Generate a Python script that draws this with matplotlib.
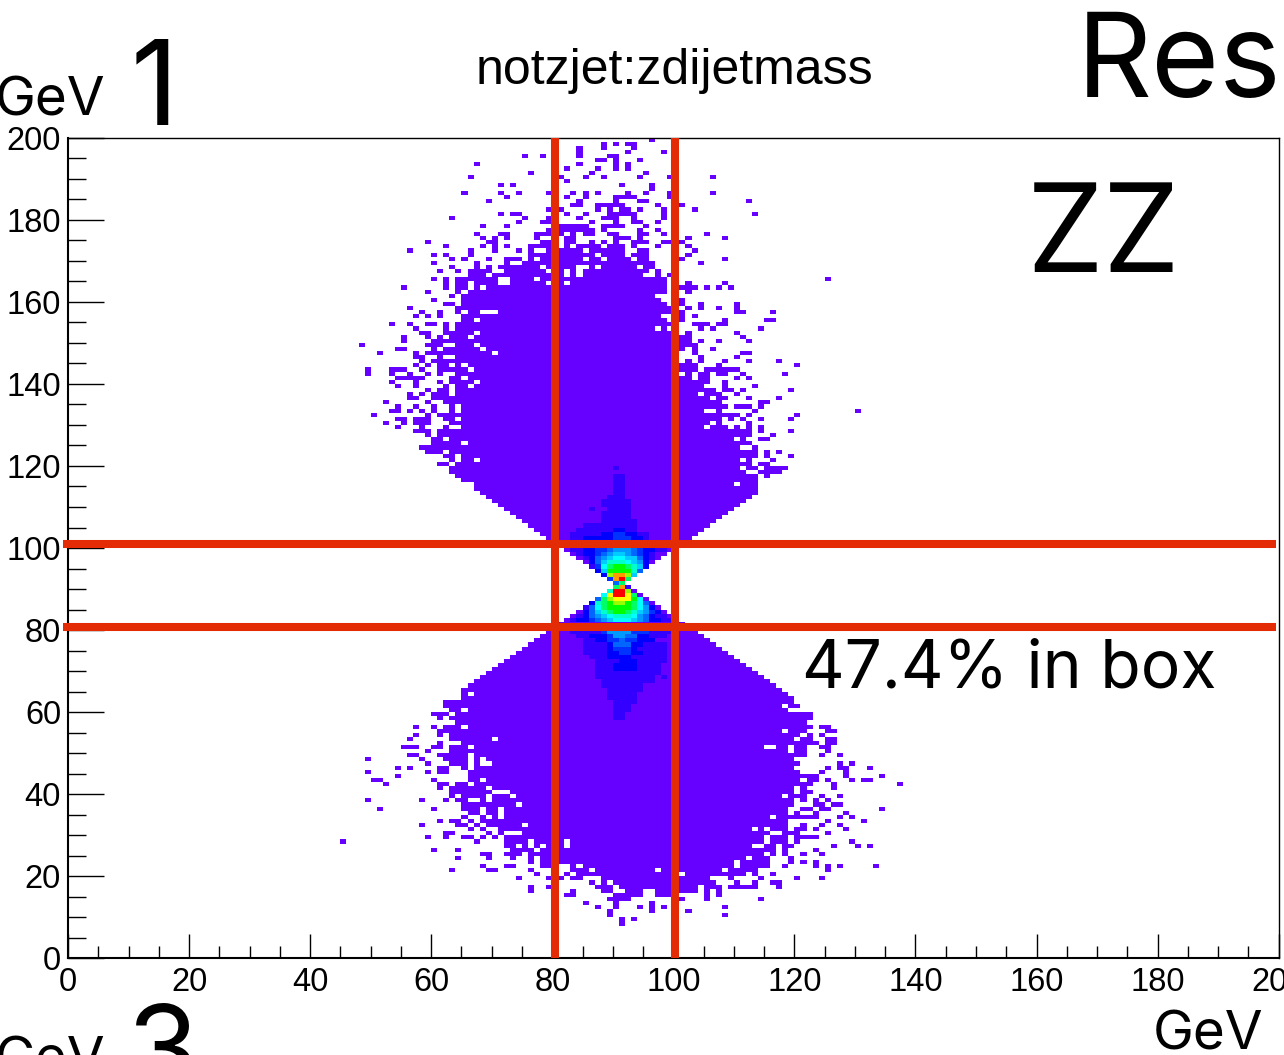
import numpy as np
from matplotlib import pyplot as plt
from matplotlib.colors import ListedColormap, BoundaryNorm
from matplotlib.ticker import MultipleLocator

# occupied 1 GeV cells, read row by row: {y bin: [x bin or (first, last), ...]}
upper_cells = {
    199: [96], 198: [88, 90, 92, 93], 197: [84, 88, 93], 196: [84, 92, 98],
    195: [75, 78, 84, 89, 90], 194: [87, 88, 90, 94], 193: [67, 84, 90, 92],
    192: [82, 87, 90, 92], 191: [76, 86, 95], 190: [66, 81, 85, 88, 94, 99, 106],
    189: [82], 188: [71, 73, 91, 96], 187: [80, 96],
    186: [65, 71, 74, 79, 83, 85, 87, 92, 95, 99, 106],
    185: [72, 82, 85, (90, 93), 99], 184: [69, 84, 90, 94, 95, 112],
    183: [(83, 84), (87, 91), 97, 101], 182: [79, 81, 87, 89, 91, 92, 94, 98, 103],
    181: [71, 73, 74, 82, 85, (89, 93), 98, 113], 180: [63, 75, 79, 84, (88, 90), 93, 98],
    179: [74, 78, 79, 86, 90, 93, 94, 97], 178: [68, 72, (81, 85), (88, 91), 95],
    177: [79, (81, 86), 88, 94, 97],
    176: [67, 71, 72, (77, 79), 81, 83, 85, 86, 89, 90, 94, 95, 98, 105],
    175: [68, 70, 72, 77, 82, 83, (90, 92), 94, 102, 108],
    174: [59, 69, 70, 78, 79, 82, 83, 86, 88, 90, 93, 94, 95, 98, 99, 101],
    173: [62, 68, 70, 72, (76, 79), 82, (84, 87), (89, 91), 93, 97, 102],
    172: [56, 66, 70, 74, 76, 79, (81, 84), (86, 91), (94, 95), 103],
    171: [60, 62, 66, (76, 79), (81, 86), (88, 91), (93, 95), 102],
    170: [63, 65, 69, (72, 74), 76, 78, 79, (81, 84), (86, 87), (89, 92), (94, 95), 101, 108],
    169: [60, 67, 72, (75, 79), (81, 96), 104],
    168: [63, 67, 69, (71, 77), 79, (81, 83), (86, 86), (88, 93), (95, 96)],
    167: [61, 64, (66, 69), (72, 78), (81, 81), 83, (85, 95), 97],
    166: [(66, 68), (70, 79), 81, 83, (85, 94), 97, 99],
    165: [60, 62, (64, 70), (73, 76), (78, 98), 125],
    164: [62, (64, 65), (67, 70), (73, 78), (80, 81), (83, 98), 102, 108],
    163: [55, 62, 64, 65, 67, (69, 98), (101, 103), 105, 107, 109],
    162: [59, 64, (66, 98), 102], 161: [63, (65, 96)], 160: [60, (65, 97), 101],
    159: [62, 63, (65, 98), 101, 104, 110], 158: [56, (64, 99), 102, 104, 107, 110],
    157: [58, 61, 64, (66, 67), (71, 99), 101, (110, 111), 116],
    156: [57, 59, 61, (65, 97), 101, 103], 155: [(65, 66), (68, 98), 101, 108, (115, 116)],
    154: [53, 56, 59, 60, 62, (64, 99), (103, 105), (107, 108)],
    153: [57, 62, (64, 96), 98, 104, 106, 114],
    152: [58, 59, (62, 66), (68, 99), 102, 110],
    151: [55, 59, 61, (63, 65), (67, 102), 111],
    150: [55, (60, 102), 104, 107, 112],
    149: [48, (59, 61), (64, 66), (68, 103)],
    148: [54, 55, 60, (62, 67), (69, 101), 103, 106],
    147: [51, 57, (59, 69), (71, 100), 103, (111, 112)],
    146: [57, 58, 61, (64, 100), 104, 110],
    145: [58, (60, 100), 102, 104, 108, 112, 117],
    144: [57, 59, (61, 62), 64, (66, 103), 107, 120],
    143: [49, (53, 55), 58, (61, 65), (67, 103), (105, 110)],
    142: [49, 53, 56, 59, 61, (64, 100), 102, 104, 105, 107, 108, 111, 118],
    141: [(54, 58), (63, 64), (66, 102), 104, 105, 110, 112],
    140: [53, 57, 61, (63, 66), (68, 105), 108],
    139: [54, 57, 62, (64, 65), (67, 104), 108, 113],
    138: [59, 61, 62, (64, 106), (108, 109), 111, 119],
    137: [56, 58, (60, 62), (64, 103), (105, 107), 110],
    136: [56, 57, (60, 105), 107, 108, 112, 117],
    135: [52, 59, (62, 107), (114, 115)],
    134: [54, 57, 60, 63, (65, 108), (110, 112), 114],
    133: [(53, 54), 56, 58, 60, 63, (65, 104), 107, 113, 130],
    132: [50, 59, (61, 110), 112, 120],
    131: [(54, 55), (57, 59), (62, 63), (65, 107), 109, 111, 114, 119],
    130: [52, 55, (57, 59), (63, 105), 107, 112],
    129: [54, 58, 62, (65, 104), (106, 108), 110, 112, 114],
    128: [(57, 59), (61, 112), 114, 119], 127: [59, (61, 112), 116],
    126: [(60, 61), (63, 109), 111, (114, 115)], 125: [(60, 64), (66, 112)],
    124: [(58, 110), 113], 123: [(59, 61), (63, 113), 115, 117],
    122: [(62, 63), (65, 113), 115, 119], 121: [63, (65, 66), (68, 110), 112, 116],
    120: [(61, 62), (64, 112), (114, 115)], 119: [(63, 110), (112, 113), (115, 118)],
    118: [(63, 111), (114, 117)], 117: [(64, 113), 115], 116: [(65, 113)],
    115: [(67, 109), (111, 113)], 114: [(67, 113)], 113: [(68, 113)], 112: [(69, 112)],
    111: [(70, 111)], 110: [(71, 110)], 109: [(72, 109)], 108: [(73, 108)],
    107: [(74, 107)], 106: [(75, 106)], 105: [(76, 105)], 104: [(77, 104)],
    103: [(78, 103)], 102: [(79, 102)], 101: [(80, 101)], 100: [(81, 101)],
}

lower_cells = {
    81: [(81, 101)], 80: [(80, 102)], 79: [(79, 103)], 78: [(78, 104)], 77: [(77, 105)],
    76: [(76, 106)], 75: [(75, 107)], 74: [(74, 108)], 73: [(73, 109)], 72: [(72, 110)],
    71: [(71, 111)], 70: [(70, 112)], 69: [(69, 113)], 68: [(68, 114)], 67: [(67, 115)],
    66: [(66, 116)], 65: [(65, 117)], 64: [65, (67, 118)], 63: [(65, 119)], 62: [(62, 119)],
    61: [(62, 117), (119, 120)], 60: [(63, 64), (66, 118)], 59: [(60, 62), (64, 122)],
    58: [61, (63, 122)], 57: [(64, 121)], 56: [57, 60, (62, 64), (66, 122), (124, 125)],
    55: [(61, 117), (119, 121), (125, 126)], 54: [57, 61, (63, 120), 122, 124],
    53: [56, (63, 69), (71, 119), (121, 122), (125, 126)], 52: [61, (65, 123), (125, 126)],
    51: [(55, 57), (60, 61), (63, 65), (67, 114), (117, 118), (120, 121), (124, 125)],
    50: [59, (63, 118), (120, 121), 125], 49: [(56, 57), (61, 65), (67, 121), 124, 127],
    48: [49, 58, (62, 65), 67, (69, 119)], 47: [59, (63, 65), 67, (70, 120), 127, 129],
    46: [54, 56, (61, 62), 65, (67, 119), 125, (127, 128), 132],
    45: [49, 59, (61, 62), (66, 120), 124, 128], 44: [54, (66, 123), 128, 134],
    43: [(50, 51), 60, (66, 67), (69, 120), (122, 123), 125, 129, (131, 132)],
    42: [52, (61, 62), (64, 65), (67, 122), 126, 137], 41: [61, (63, 68), (70, 119), 121, 126],
    40: [(63, 69), (73, 119), (121, 122)],
    39: [63, (65, 68), (70, 72), (74, 117), (119, 121), 124, 127],
    38: [49, 58, 62, (64, 65), 68, (70, 119), 121, 123, 125],
    37: [(65, 73), (75, 119), (123, 124), (126, 127)],
    36: [51, 60, (65, 67), (69, 70), (72, 118), (121, 122), (124, 125), 134],
    35: [(66, 67), (69, 70), (72, 118), 120, 123, 128],
    34: [65, 68, 70, (72, 115), (117, 123), 127, 129],
    33: [61, (63, 64), 66, (68, 118), 125, 131],
    32: [58, (64, 65), 67, (69, 74), (76, 118), 121, 124, 127],
    31: [66, 68, (71, 112), 114, (116, 118), (120, 121), 123, 128],
    30: [(62, 63), 69, 71, (75, 115), (118, 120), 125],
    29: [59, 62, (65, 66), 68, 70, (72, 114), (116, 118), (120, 123)],
    28: [45, 67, (72, 75), (77, 81), (83, 114), (116, 118), 120, 129],
    27: [(72, 73), 75, 77, (79, 81), (83, 112), (115, 116), (118, 119), 126, 130, 132],
    26: [60, 64, (73, 76), (78, 116), 118, 123],
    25: [(68, 69), (72, 74), (76, 114), 116, 118, 121, 124],
    24: [64, 69, 73, 76, (78, 111), (113, 115), 119],
    23: [76, (78, 109), (111, 115), 119, 121, 123],
    22: [68, (72, 73), (78, 80), 83, (85, 109), (111, 115), 118, 123, 125, 127, 133],
    21: [63, (69, 70), 76, (83, 85), (87, 96), (98, 107), (109, 113), 125],
    20: [77, 82, (84, 100), (102, 111), 113, 116],
    19: [74, (79, 81), (83, 84), (88, 105), 109, 114, 120, 124],
    18: [86, 88, (90, 106), 110, 113, (116, 117)],
    17: [76, 79, (87, 89), (91, 103), (105, 107), (109, 113), 117],
    16: [76, 83, (88, 89), (92, 94), (97, 103), 105, 107],
    15: [(82, 83), (90, 94), (97, 100), 105, 107], 14: [(89, 92), 101, 105, 114],
    13: [85, 90, 96], 12: [87, 90, 94, 96, 98, 100, 108], 11: [89, 96, 102],
    10: [89, 108], 9: [91, 93], 8: [91],
}

# narrow waist, bin contents as palette steps, first x bin then the row
waist_first = {99: 82, 98: 83, 97: 84, 96: 85, 95: 86, 94: 87, 93: 88, 92: 89, 91: 90, 90: 90,
               89: 89, 88: 88, 87: 87, 86: 86, 85: 85, 84: 84, 83: 83, 82: 82}
waist_levels = {
    99: [1, 2, 2, 3, 3, 4, 4, 5, 6, 6, 6, 5, 4, 3, 3, 2, 2, 1, 1],
    98: [1, 2, 3, 3, 4, 5, 6, 7, 7, 6, 5, 4, 3, 2, 1, 1],
    97: [1, 2, 3, 5, 6, 7, 8, 8, 7, 7, 5, 3, 2, 1],
    96: [1, 3, 5, 7, 9, 9, 9, 8, 7, 6, 3, 1],
    95: [2, 4, 8, 10, 11, 11, 10, 9, 7, 3],
    94: [3, 7, 11, 11, 11, 11, 9, 5],
    93: [3, 12, 14, 14, 12, 7],
    92: [4, 14, 15, 10],
    91: [5, 10],
    90: [10, 14, 2],
    89: [9, 15, 15, 12, 1],
    88: [8, 13, 15, 15, 13, 10, 1],
    87: [5, 10, 12, 13, 13, 13, 11, 8, 1],
    86: [3, 9, 10, 11, 12, 12, 11, 10, 8, 5, 1],
    85: [2, 5, 8, 10, 11, 11, 11, 11, 10, 8, 6, 3, 1],
    84: [1, 3, 5, 7, 9, 10, 11, 11, 10, 9, 7, 6, 4, 3, 1],
    83: [1, 2, 3, 5, 6, 7, 8, 9, 9, 9, 8, 6, 5, 3, 2, 2, 1],
    82: [1, 2, 3, 3, 4, 5, 6, 7, 8, 8, 8, 7, 6, 5, 3, 3, 2, 2, 1],
}

# blue shoulders around the waist: y bin, first x bin, last x bin, palette step
shoulder_rows = [119, 117, 116, 115, 114, 113, 112, 111, 110, 109, 109, 108, 107, 106, 105,
                 104, 104, 104, 103, 103, 103, 103, 103,
                 102, 102, 102, 102, 102, 102,
                 79, 79, 79, 79, 79, 78, 78, 78, 78, 78, 78, 78,
                 77, 77, 77, 77, 77, 77, 76, 76, 76, 76, 76, 75, 75, 75, 75, 75,
                 74, 74, 74, 74, 74, 73, 73, 73, 72, 72, 72, 71, 71, 71, 70, 70, 70,
                 69, 68, 68, 67, 66, 65, 64, 63, 62, 61, 60, 59, 58]
shoulder_first = [90, 90, 90, 90, 90, 90, 89, 88, 88, 86, 89, 88, 88, 88, 85,
                  84, 90, 92, 83, 88, 90, 92, 94,
                  83, 85, 90, 93, 95, 95,
                  83, 88, 89, 93, 96, 84, 86, 89, 90, 92, 94, 96,
                  85, 87, 89, 91, 92, 94, 85, 89, 90, 93, 95, 85, 89, 90, 93, 94,
                  85, 89, 91, 93, 95, 86, 89, 93, 87, 91, 94, 87, 90, 94, 87, 90, 94,
                  87, 87, 98, 88, 88, 89, 89, 89, 90, 90, 90, 90, 90]
shoulder_last = [90, 91, 91, 91, 91, 91, 91, 92, 92, 86, 92, 92, 92, 93, 93,
                 89, 91, 93, 87, 89, 91, 93, 95,
                 84, 89, 92, 94, 95, 95,
                 87, 88, 92, 95, 99, 85, 88, 89, 91, 93, 95, 98,
                 86, 88, 90, 91, 93, 96, 88, 89, 92, 94, 98, 88, 89, 92, 93, 98,
                 88, 90, 92, 94, 98, 88, 92, 98, 90, 93, 98, 89, 93, 97, 89, 93, 97,
                 97, 96, 98, 96, 94, 94, 93, 93, 93, 92, 92, 91, 91]
shoulder_level = [2, 2, 2, 2, 2, 2, 2, 2, 2, 2, 2, 2, 2, 2, 2,
                  2, 3, 2, 2, 3, 4, 3, 2,
                  2, 3, 4, 3, 2, 2,
                  2, 4, 6, 4, 2, 2, 3, 4, 6, 5, 3, 2,
                  2, 3, 4, 5, 4, 3, 2, 3, 5, 3, 2, 2, 3, 4, 3, 2,
                  2, 3, 4, 3, 2, 2, 3, 2, 2, 3, 2, 2, 3, 2, 2, 3, 2,
                  2, 2, 2, 2, 2, 2, 2, 2, 2, 2, 2, 2, 2]

palette = ['#6600ff', '#3300ff', '#0000ff', '#0033ff', '#0066ff', '#0099ff', '#00ccff', '#00ffff',
           '#00ffcc', '#00ff66', '#00ff00', '#99ff00', '#ffff00', '#ff9900', '#ff0000']

box_x = [80.5, 100.3]
box_y = [80.8, 101.1]
ticks = [0, 20, 40, 60, 80, 100, 120, 140, 160, 180, 200]
title = 'notzjet:zdijetmass'

W, H = 1284, 1055
counts = np.full((200, 200), np.nan)
for cells in (upper_cells, lower_cells):
    for row, items in cells.items():
        for item in items:
            first, last = item if isinstance(item, tuple) else (item, item)
            counts[row, first:last + 1] = 1
for row, levels in waist_levels.items():
    first = waist_first[row]
    counts[row, first:first + len(levels)] = levels
for r, a, b, lev in zip(shoulder_rows, shoulder_first, shoulder_last, shoulder_level):
    counts[r, a:b + 1] = lev

fig = plt.figure(figsize=(W / 100, H / 100), dpi=100)
ax = fig.add_axes([68 / W, 1 - 958.4 / H, 1210.7 / W, 820.7 / H])
edges = np.arange(0, 201)
cmap = ListedColormap(palette)
norm = BoundaryNorm(np.arange(0.5, 16.5), cmap.N)
ax.pcolormesh(edges, edges, np.ma.masked_invalid(counts), cmap=cmap, norm=norm)
ax.set_xlim(0, 200)
ax.set_ylim(0, 200)

ax.xaxis.set_minor_locator(MultipleLocator(5))
ax.yaxis.set_minor_locator(MultipleLocator(5))
ax.set_xticks(ticks)
ax.set_yticks(ticks)
ax.set_xticklabels(ticks, family='Liberation Sans', fontsize=23.5)
ax.set_yticklabels(ticks, family='Liberation Sans', fontsize=23.5)
ax.tick_params(axis='x', which='major', direction='in', length=17, width=1.0, pad=6, top=False)
ax.tick_params(axis='x', which='minor', direction='in', length=8.5, width=1.0, top=False)
ax.tick_params(axis='y', which='major', direction='in', length=26, width=1.0, pad=5, right=False)
ax.tick_params(axis='y', which='minor', direction='in', length=13, width=1.0, right=False)
ax.spines['left'].set_linewidth(1.5)
ax.spines['bottom'].set_linewidth(1.5)
ax.spines['top'].set_linewidth(1.0)
ax.spines['right'].set_linewidth(1.0)

red = '#e32b06'
for v in box_x:
    ax.plot([v, v], [0, 200], color=red, lw=5.8, solid_capstyle='butt', clip_on=False, zorder=5)
for v in box_y:
    ax.plot([-0.8, 199.6], [v, v], color=red, lw=5.8, solid_capstyle='butt', clip_on=False, zorder=5)


def label(text, x, y, size, family='Liberation Sans', ha='left'):
    fig.text(x / W, 1 - y / H, text, fontsize=size, family=family, ha=ha, va='baseline')


big = 'Inter'
label(title, 674, 84, 36, ha='center')
label('Res', 1077, 97, 84, family=big)
label('ZZ', 1027, 272, 88, family=big)
label('47.4% in box', 802, 688, 47.5, family=big)
label('GeV', -5, 115, 39.5, family=big)
label('1', 131, 125, 84, family=big)
label('GeV', -5, 1075, 39.5, family=big)
label('3', 127, 1090, 84, family=big)
label('GeV', 1153, 1049, 39.5, family=big)

plt.savefig('out.png', dpi=100)
